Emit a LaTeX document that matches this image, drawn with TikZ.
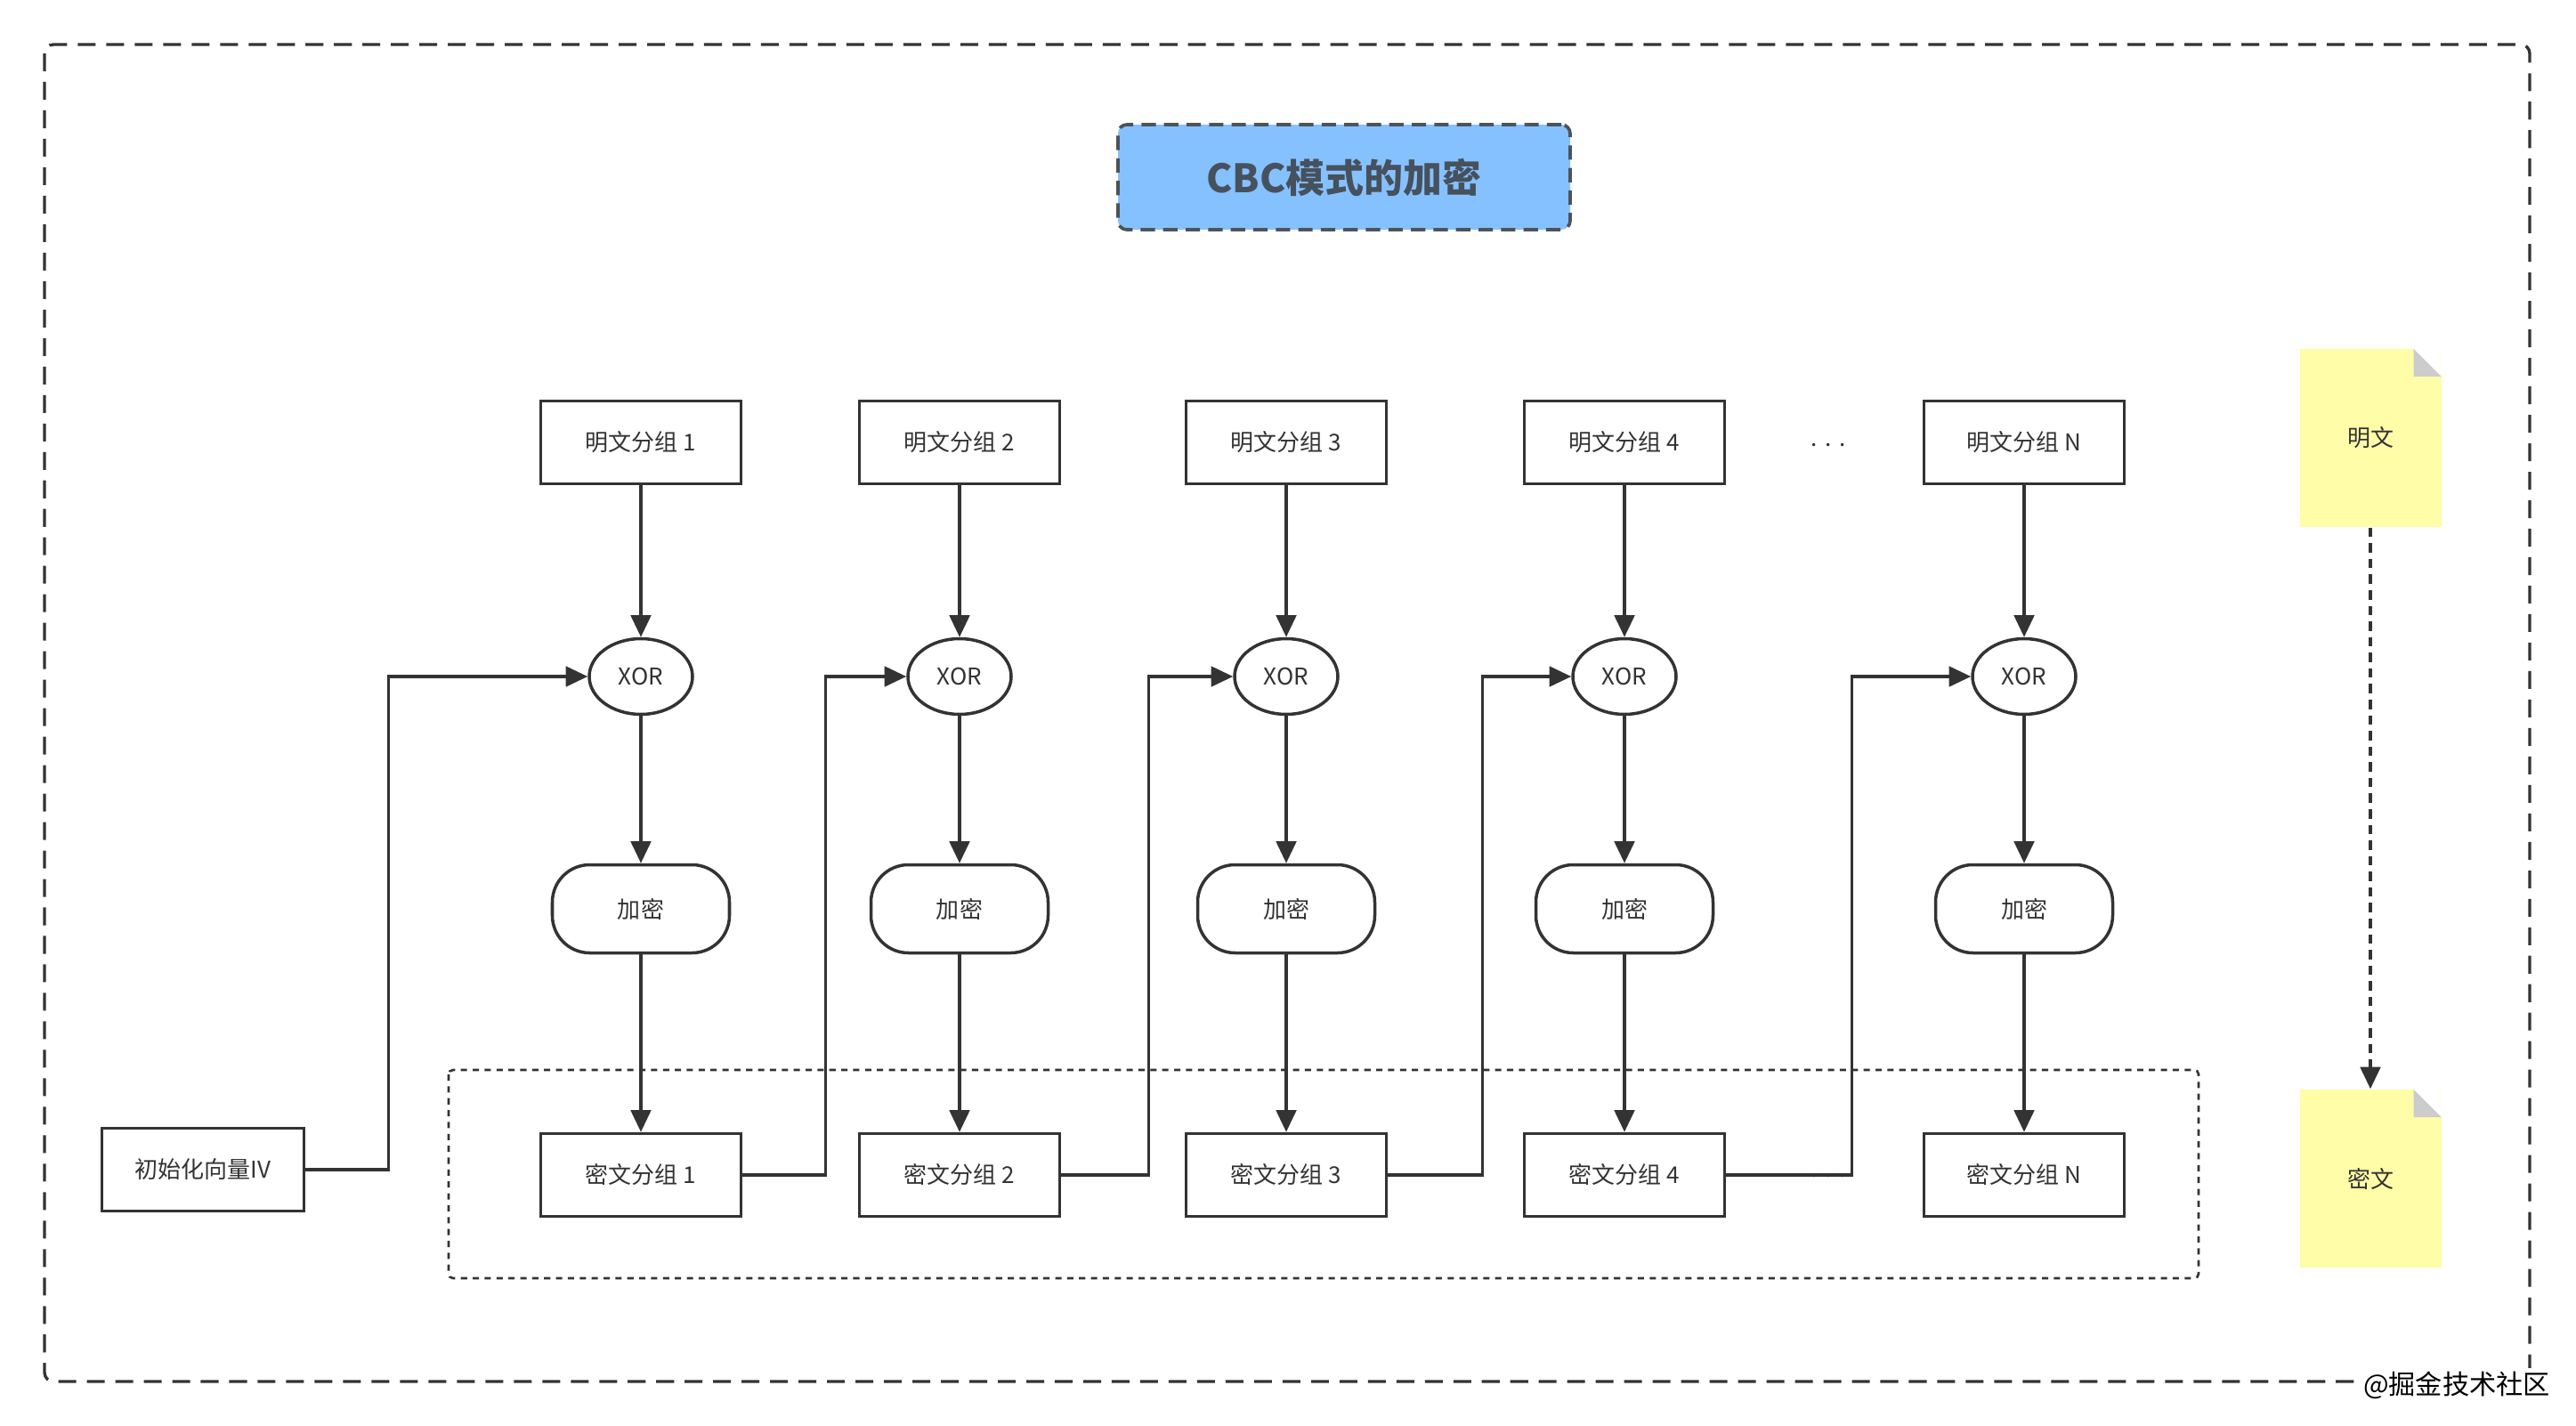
\documentclass[tikz,border=0pt]{standalone}
\usepackage{fontspec}
\setmainfont{Noto Sans CJK SC}
\usetikzlibrary{arrows.meta,shapes.geometric}
\definecolor{linegray}{HTML}{333333}
\definecolor{titleblue}{HTML}{85C1FF}
\definecolor{titleline}{HTML}{4D5359}
\definecolor{titletext}{HTML}{46515E}
\definecolor{noteyellow}{HTML}{FFFDA8}
\definecolor{foldgray}{HTML}{CCCCCC}
\tikzset{
  boxfont/.style={font=\fontsize{7.4}{9}\selectfont, text=linegray},
  block/.style={draw=linegray, line width=1pt, minimum width=2.25cm, minimum height=0.93cm, inner sep=0pt, boxfont},
  xorop/.style={ellipse, draw=linegray, line width=1pt, minimum width=1.16cm, minimum height=0.85cm, inner sep=0pt, boxfont},
  encop/.style={draw=linegray, line width=1pt, rounded corners=0.42cm, minimum width=1.99cm, minimum height=0.99cm, inner sep=0pt, boxfont},
  flow/.style={draw=linegray, line width=1pt, -{Triangle[length=7pt,width=6.4pt]}},
  stickynote/.style={fill=noteyellow, minimum width=1.59cm, minimum height=2.0cm, inner sep=0pt, boxfont,
    path picture={
      \fill[white] (path picture bounding box.north east) -- ([xshift=-0.31cm]path picture bounding box.north east)
        -- ([yshift=-0.31cm]path picture bounding box.north east) -- cycle;
      \fill[foldgray] ([xshift=-0.31cm]path picture bounding box.north east) -- ([yshift=-0.31cm]path picture bounding box.north east)
        -- ([shift={(-0.31cm,-0.31cm)}]path picture bounding box.north east) -- cycle;
    }},
}

\begin{document}
\begin{tikzpicture}[x=1cm, y=-1cm]
    \useasboundingbox (0,0) rectangle (28.94,16.02);

    % outer frame and cipher group
    \draw[linegray, line width=0.95pt, dash pattern=on 5.7pt off 3.4pt, rounded corners=0.1cm] (0.5,0.5) rectangle (28.42,15.52);
    \draw[linegray, line width=0.75pt, dash pattern=on 2pt off 1.8pt, rounded corners=0.05cm] (5.04,12.02) rectangle (24.70,14.36);

    % title
    \node[fill=titleblue, draw=titleline, line width=1.05pt, dash pattern=on 4.6pt off 2.6pt, rounded corners=0.1cm,
          minimum width=5.08cm, minimum height=1.18cm, text=titletext, font=\fontsize{12.5}{15}\selectfont\bfseries] (title) at (15.10,1.99) {CBC模式的加密};

    % plaintext blocks
    \node[block] (p1) at (7.20,4.97) {明文分组 1};
    \node[block] (p2) at (10.78,4.97) {明文分组 2};
    \node[block] (p3) at (14.45,4.97) {明文分组 3};
    \node[block] (p4) at (18.25,4.97) {明文分组 4};
    \node[block] (p5) at (22.74,4.97) {明文分组 N};
    \node[boxfont, anchor=base] (dotsA) at (20.54,5.01) {.\,\,.\,\,.};

    % XOR
    \node[xorop] (x1) at (7.20,7.60) {XOR};
    \node[xorop] (x2) at (10.78,7.60) {XOR};
    \node[xorop] (x3) at (14.45,7.60) {XOR};
    \node[xorop] (x4) at (18.25,7.60) {XOR};
    \node[xorop] (x5) at (22.74,7.60) {XOR};

    % encryption
    \node[encop] (e1) at (7.20,10.21) {加密};
    \node[encop] (e2) at (10.78,10.21) {加密};
    \node[encop] (e3) at (14.45,10.21) {加密};
    \node[encop] (e4) at (18.25,10.21) {加密};
    \node[encop] (e5) at (22.74,10.21) {加密};

    % ciphertext blocks
    \node[block] (c1) at (7.20,13.20) {密文分组 1};
    \node[block] (c2) at (10.78,13.20) {密文分组 2};
    \node[block] (c3) at (14.45,13.20) {密文分组 3};
    \node[block] (c4) at (18.25,13.20) {密文分组 4};
    \node[block] (c5) at (22.74,13.20) {密文分组 N};
    \node[boxfont, anchor=base] (dotsB) at (20.54,13.22) {.\,\,.\,\,.};

    % IV
    \node[block, minimum width=2.27cm] (iv) at (2.28,13.14) {初始化向量IV};

    % vertical flow
    \draw[flow] (p1) -- (x1);  \draw[flow] (x1) -- (e1);  \draw[flow] (e1) -- (c1);
    \draw[flow] (p2) -- (x2);  \draw[flow] (x2) -- (e2);  \draw[flow] (e2) -- (c2);
    \draw[flow] (p3) -- (x3);  \draw[flow] (x3) -- (e3);  \draw[flow] (e3) -- (c3);
    \draw[flow] (p4) -- (x4);  \draw[flow] (x4) -- (e4);  \draw[flow] (e4) -- (c4);
    \draw[flow] (p5) -- (x5);  \draw[flow] (x5) -- (e5);  \draw[flow] (e5) -- (c5);

    % chaining
    \draw[flow] (iv.east) -- ++(0.93,0) |- (x1.west);
    \draw[flow] (c1.east) -- ++(0.93,0) |- (x2.west);
    \draw[flow] (c2.east) -- ++(0.98,0) |- (x3.west);
    \draw[flow] (c3.east) -- ++(1.06,0) |- (x4.west);
    \draw[flow] (c4.east) -- ++(1.41,0) |- (x5.west);

    % legend notes
    \node[stickynote] (ptnote) at (26.63,4.92) {明文};
    \node[stickynote] (ctnote) at (26.63,13.24) {密文};
    \draw[flow, dash pattern=on 3pt off 2pt] (ptnote) -- (ctnote);

    % watermark
    \node[fill=white, inner sep=1pt, font=\fontsize{8.6}{10}\selectfont, text=black] (wmark) at (27.60,15.56) {@掘金技术社区};
\end{tikzpicture}
\end{document}
